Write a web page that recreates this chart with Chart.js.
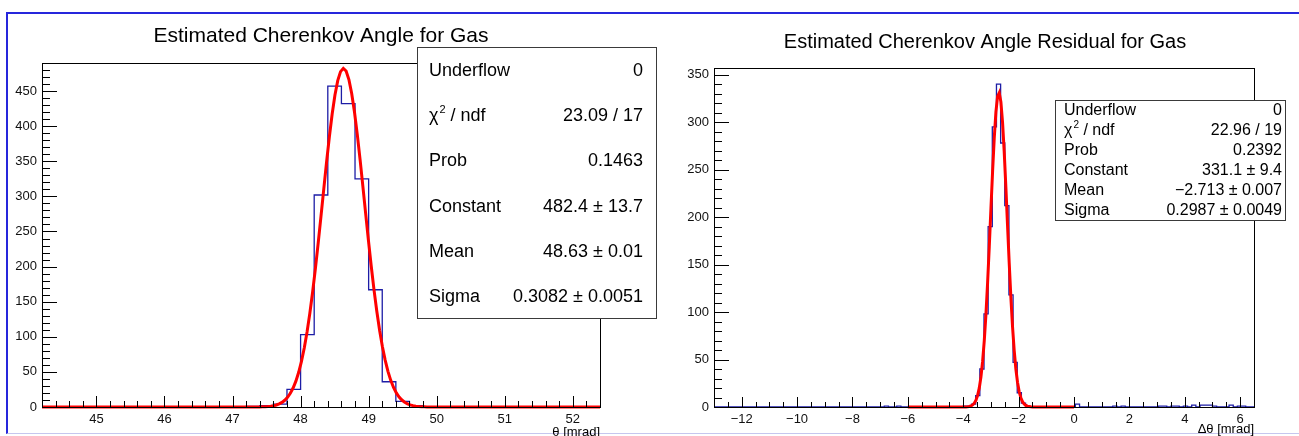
<!DOCTYPE html>
<html>
<head>
<meta charset="utf-8">
<title>Cherenkov angle, gas radiator</title>
<script src="https://cdn.jsdelivr.net/npm/chart.js@4/dist/chart.umd.min.js"></script>
<style>
  html, body { margin: 0; padding: 0; background: #fff; }
  body { width: 1299px; height: 436px; position: relative; overflow: hidden; }
  #border { position: absolute; left: 6px; top: 12px; width: 1293px; height: 422px; box-sizing: border-box;
            border-top: 2px solid #2626dc; border-left: 2px solid #2626dc; border-bottom: 1px solid #c6c6ee; }
  canvas { position: absolute; top: 0; }
  #thetaPad { left: 0; }
  #residPad { left: 660px; }
</style>
</head>
<body>
<div id="border"></div>
<canvas id="thetaPad" width="660" height="436"></canvas>
<canvas id="residPad" width="639" height="436"></canvas>
<script>
// ---------------------------------------------
// data: reconstructed angle (theta) histogram
// ---------------------------------------------
const THETA_LO  = 44.2
const THETA_HI  = 52.4
const THETA_BIN = 0.2
const thetaCounts = [
  0, 0, 0, 0, 0, 0, 0, 0, 0, 0,
  0, 0, 0, 0, 0, 1, 2, 4, 25, 103,
  302, 457, 432, 325, 167, 36, 8, 2, 0, 0,
  0, 0, 0, 0, 0, 0, 0, 0, 0, 0,
  0
]
const thetaYMax   = 490
const thetaXTicks = { major: 1, minor: 0.2 }
const thetaFit    = { constant: 482.4, mean: 48.63, sigma: 0.3082, from: 44.2, to: 52.4 }
const thetaStats  = [
  ['Underflow', '0'],
  ['chi2', '23.09 / 17'],
  ['Prob', '0.1463'],
  ['Constant', '482.4 \u00b1 13.7'],
  ['Mean', '48.63 \u00b1 0.01'],
  ['Sigma', '0.3082 \u00b1 0.0051']
]

// ---------------------------------------------
// data: residual (delta theta) histogram
// ---------------------------------------------
const RESID_LO  = -13
const RESID_HI  = 6.5
const RESID_BIN = 0.15
const residCounts = [
  0, 0, 0, 0, 0, 0, 0, 0, 0, 0,
  0, 0, 0, 0, 0, 0, 0, 0, 0, 0,
  0, 0, 0, 0, 0, 0, 0, 0, 0, 0,
  0, 0, 0, 0, 0, 0, 0, 0, 0, 0,
  0, 1, 0, 0, 1, 0, 0, 0, 0, 0,
  0, 0, 0, 0, 0, 0, 0, 0, 0, 0,
  1, 1, 3, 12, 40, 98, 190, 295, 340, 278,
  212, 118, 47, 15, 4, 1, 0, 0, 0, 0,
  0, 0, 0, 0, 0, 0, 0, 3, 0, 0,
  0, 0, 0, 0, 0, 0, 1, 0, 1, 0,
  0, 0, 0, 0, 0, 0, 0, 1, 1, 0,
  1, 1, 0, 1, 0, 2, 0, 2, 2, 2,
  1, 0, 0, 0, 2, 0, 1, 1, 0, 0
]
const residYMax   = 357
const residXTicks = { major: 2, minor: 0.5 }
const residFit    = { constant: 331.1, mean: -2.713, sigma: 0.2987, from: -6, to: 0 }
const residStats  = [
  ['Underflow', '0'],
  ['chi2', '22.96 / 19'],
  ['Prob', '0.2392'],
  ['Constant', '331.1 \u00b1 9.4'],
  ['Mean', '\u22122.713 \u00b1 0.007'],
  ['Sigma', '0.2987 \u00b1 0.0049']
]

const FONT = "'Liberation Sans', Arial, Helvetica, sans-serif"
const HIST_COLOR = '#1d1da6'
const FIT_COLOR  = '#ff0000'

// step outline: one point per bin low edge plus the last high edge
function histPoints(lo, width, counts) {
  const pts = counts.map((c, i) => ({ x: lo + i * width, y: c }))
  pts.push({ x: lo + counts.length * width, y: counts[counts.length - 1] })
  return pts
}

// gaus fit drawn from its fitted parameters over the fit range
function fitPoints(fit, npx) {
  const pts = []
  for (let i = 0; i <= npx; i++) {
    const x = fit.from + (fit.to - fit.from) * i / npx
    const z = (x - fit.mean) / fit.sigma
    pts.push({ x, y: fit.constant * Math.exp(-0.5 * z * z) })
  }
  return pts
}

function fmtTick(v) {
  return v < 0 ? '\u2212' + Math.abs(v) : String(v)
}

// frame, inward ticks, title, axis title and stats box
const padDecor = {
  id: 'padDecor',
  afterDatasetsDraw(chart, args, o) {
    const { ctx, chartArea: a } = chart
    const xs = chart.scales.x, ys = chart.scales.y
    ctx.save()
    ctx.strokeStyle = '#000'
    ctx.lineWidth = 1
    ctx.strokeRect(Math.round(a.left) + 0.5, Math.round(a.top) + 0.5,
                   Math.round(a.right - a.left), Math.round(a.bottom - a.top))

    ctx.beginPath()
    const xi0 = Math.ceil(xs.min / o.xTicks.minor - 1e-6)
    for (let i = xi0; i * o.xTicks.minor <= xs.max + 1e-6; i++) {
      const v = i * o.xTicks.minor
      const r = v / o.xTicks.major
      const len = Math.abs(r - Math.round(r)) < 1e-6 ? o.xTickLen[0] : o.xTickLen[1]
      const px = Math.round(xs.getPixelForValue(v)) + 0.5
      ctx.moveTo(px, a.bottom)
      ctx.lineTo(px, a.bottom - len)
    }
    for (let v = 0; v <= ys.max; v += 10) {
      const len = v % 50 === 0 ? o.yTickLen[0] : o.yTickLen[1]
      const py = Math.round(ys.getPixelForValue(v)) + 0.5
      ctx.moveTo(a.left, py)
      ctx.lineTo(a.left + len, py)
    }
    ctx.stroke()

    ctx.fillStyle = '#000'
    ctx.textBaseline = 'middle'
    ctx.textAlign = 'center'
    ctx.font = o.titleSize + 'px ' + FONT
    ctx.fillText(o.title, o.titleX, o.titleY)

    ctx.textAlign = 'right'
    ctx.font = '13px ' + FONT
    ctx.fillText(o.xTitle, a.right, o.xTitleY)

    const b = o.box
    ctx.fillStyle = '#fff'
    ctx.fillRect(b.x, b.y, b.w, b.h)
    ctx.strokeStyle = '#3a3a3a'
    ctx.strokeRect(b.x + 0.5, b.y + 0.5, b.w, b.h)
    const rowH = b.h / o.stats.length
    ctx.fillStyle = '#000'
    o.stats.forEach(([label, value], i) => {
      const cy = b.y + rowH * (i + 0.5) + b.dy
      ctx.font = o.statSize + 'px ' + FONT
      ctx.textAlign = 'left'
      if (label === 'chi2') {
        ctx.fillText('\u03c7', b.x + b.padL, cy)
        let px = b.x + b.padL + ctx.measureText('\u03c7').width
        ctx.font = Math.round(o.statSize * 0.62) + 'px ' + FONT
        ctx.fillText('2', px + 1, cy - o.statSize * 0.33)
        px += ctx.measureText('2').width + 1
        ctx.font = o.statSize + 'px ' + FONT
        ctx.fillText(' / ndf', px, cy)
      } else {
        ctx.fillText(label, b.x + b.padL, cy)
      }
      ctx.textAlign = 'right'
      ctx.fillText(value, b.x + b.w - b.padR, cy)
    })
    ctx.restore()
  }
}

function buildConfig(p) {
  return {
    type: 'line',
    data: {
      datasets: [
        {
          label: 'fit',
          data: fitPoints(p.fit, p.npx),
          borderColor: FIT_COLOR, borderWidth: 3,
          pointRadius: 0, tension: 0, fill: false,
          clip: { left: 0, top: 0, right: 0, bottom: 3 }
        },
        {
          // each bin's count runs from its low edge to the next point
          label: 'hist',
          data: histPoints(p.lo, p.bin, p.counts),
          borderColor: HIST_COLOR, borderWidth: 1.3,
          pointRadius: 0, stepped: 'before', fill: false
        }
      ]
    },
    options: {
      responsive: false, animation: false, events: [],
      layout: { padding: p.padding },
      plugins: {
        legend: { display: false },
        tooltip: { enabled: false },
        padDecor: p.decor
      },
      scales: {
        x: {
          type: 'linear', min: p.lo, max: p.hi,
          afterFit: s => { s.height = 29 },
          grid: { display: false, drawTicks: false },
          border: { display: false },
          ticks: {
            stepSize: p.decor.xTicks.major, includeBounds: false, autoSkip: false,
            maxRotation: 0, padding: 5, color: '#111',
            font: { family: FONT, size: 13 },
            callback: v => fmtTick(v)
          }
        },
        y: {
          type: 'linear', min: 0, max: p.yMax,
          afterFit: s => { s.width = p.yAxisW },
          grid: { display: false, drawTicks: false },
          border: { display: false },
          ticks: {
            stepSize: 50, includeBounds: false, padding: 5, color: '#111',
            font: { family: FONT, size: 13 },
            callback: v => fmtTick(v)
          }
        }
      }
    },
    plugins: [padDecor]
  }
}

new Chart(document.getElementById('thetaPad'), buildConfig({
  lo: THETA_LO, hi: THETA_HI, bin: THETA_BIN, counts: thetaCounts,
  yMax: thetaYMax, fit: thetaFit, npx: 200,
  yAxisW: 42,
  padding: { left: 0, right: 60, top: 63, bottom: 0 },
  decor: {
    title: 'Estimated Cherenkov Angle for Gas', titleX: 321, titleY: 36, titleSize: 21,
    xTitle: '\u03b8 [mrad]', xTitleY: 432,
    xTicks: thetaXTicks, xTickLen: [11, 6], yTickLen: [15, 8],
    stats: thetaStats, statSize: 18,
    box: { x: 417, y: 47, w: 239, h: 271, padL: 12, padR: 13, dy: 1.5 }
  }
}))

new Chart(document.getElementById('residPad'), buildConfig({
  lo: RESID_LO, hi: RESID_HI, bin: RESID_BIN, counts: residCounts,
  yMax: residYMax, fit: residFit, npx: 100,
  yAxisW: 54,
  padding: { left: 0, right: 45, top: 68, bottom: 0 },
  decor: {
    title: 'Estimated Cherenkov Angle Residual for Gas', titleX: 325, titleY: 42, titleSize: 20,
    xTitle: '\u0394\u03b8 [mrad]', xTitleY: 429,
    xTicks: residXTicks, xTickLen: [10, 5], yTickLen: [15, 8],
    stats: residStats, statSize: 16,
    box: { x: 395, y: 100, w: 230, h: 120, padL: 9, padR: 3, dy: 1 }
  }
}))
</script>
</body>
</html>
